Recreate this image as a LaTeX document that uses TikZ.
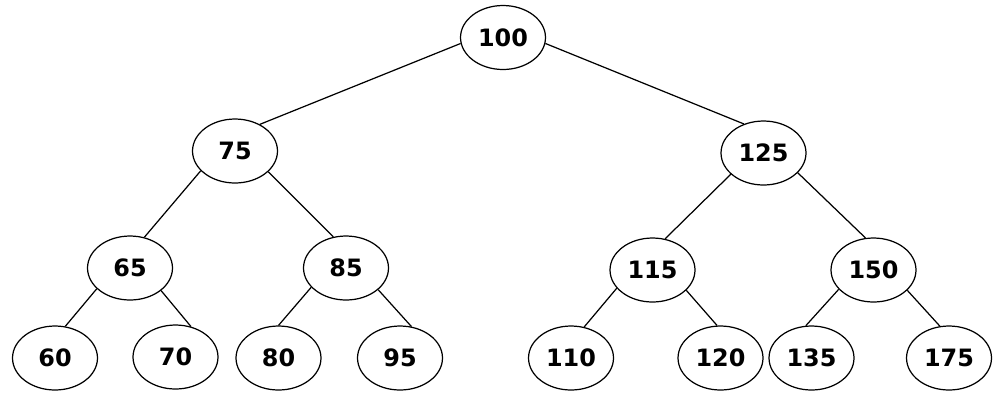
\documentclass[tikz,border=0pt]{standalone}
\usepackage{fontspec}
\setsansfont{DejaVu Sans}
\usetikzlibrary{shapes.geometric}
\begin{document}
\begin{tikzpicture}[x=0.02cm,y=-0.02cm,
  key/.style={ellipse,draw,line width=0.7pt,minimum width=1.7cm,minimum height=1.28cm,inner sep=0pt,
    font=\sffamily\bfseries\fontsize{13.6}{15}\selectfont},
  link/.style={line width=0.7pt}]
\useasboundingbox (0,0) rectangle (1000,400);
% levels of the binary search tree
\node[key] (n100) at (503,37.5) {100};
\node[key] (n75)  at (235,151) {75};
\node[key] (n125) at (763.5,153) {125};
\node[key] (n65)  at (130,268) {65};
\node[key] (n85)  at (346,268) {85};
\node[key] (n115) at (652.5,270) {115};
\node[key] (n150) at (873.5,270) {150};
\node[key] (n60)  at (55,358)  {60};
\node[key] (n70)  at (175.5,357) {70};
\node[key] (n80)  at (278.5,358) {80};
\node[key] (n95)  at (400,358) {95};
\node[key] (n110) at (571,358) {110};
\node[key] (n120) at (720.5,358) {120};
\node[key] (n135) at (811.5,358) {135};
\node[key] (n175) at (949,358) {175};
% parent-child links
\draw[link] (n100.-172) -- (n75.47);
\draw[link] (n100.-8) -- (n125.124);
\draw[link] (n75.-150) -- (n65.65);
\draw[link] (n75.-32) -- (n85.112);
\draw[link] (n125.-147) -- (n115.68);
\draw[link] (n125.-30) -- (n150.104);
\draw[link] (n65.-148) -- (n60.72);
\draw[link] (n65.-36) -- (n70.63);
\draw[link] (n85.-151) -- (n80.90);
\draw[link] (n85.-34) -- (n95.70);
\draw[link] (n115.-153) -- (n110.67);
\draw[link] (n115.-31) -- (n120.96);
\draw[link] (n150.-151) -- (n135.100);
\draw[link] (n150.-31) -- (n175.106);
\end{tikzpicture}
\end{document}
